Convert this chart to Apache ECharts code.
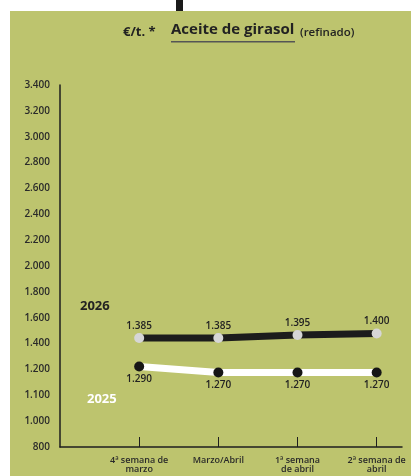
<!DOCTYPE html>
<html>
<head>
<meta charset="utf-8">
<script src="https://cdn.jsdelivr.net/npm/echarts@6/dist/echarts.min.js"></script>
<style>
html,body{margin:0;padding:0;background:#fff;}
#c{position:absolute;left:10px;top:11px;width:401px;height:465px;background:#bdc46e;}
</style>
</head>
<body>
<div id="c"></div>
<script>
var categories = ['4ª semana de\nmarzo', 'Marzo/Abril', '1ª semana\nde abril', '2ª semana de\nabril'];
var yTickLabels = ['800', '1.000', '1.100', '1.200', '1.400', '1.600', '1.800', '2.000', '2.200', '2.400', '2.600', '2.800', '3.000', '3.200', '3.400'];
var values2026 = [1385, 1385, 1395, 1400];
var values2025 = [1290, 1270, 1270, 1270];

function fmt(v) {
  var s = String(v);
  return s.length > 3 ? s.slice(0, s.length - 3) + '.' + s.slice(-3) : s;
}
function pairs(arr) { return arr.map(function (v, i) { return [i + 1, v]; }); }

var FONT = '"Open Sans", "Noto Sans", sans-serif';
var chart = echarts.init(document.getElementById('c'));
chart.setOption({
  animation: false,
  grid: { left: 50, right: 9, top: 74, bottom: 29 },
  xAxis: {
    type: 'value', min: 0, max: 4.32,
    axisLine: { lineStyle: { color: '#1e1e1e', width: 1.5 } },
    axisTick: { show: true, inside: true, length: 10, customValues: [1, 2, 3, 4], lineStyle: { color: '#1e1e1e', width: 1 } },
    axisLabel: { customValues: [1, 2, 3, 4], formatter: function (v) { return categories[v - 1] || ''; },
      fontFamily: FONT, fontWeight: 600, fontSize: 9, lineHeight: 9, color: '#2a2a2a', margin: 9 },
    splitLine: { show: false }
  },
  yAxis: [{
    type: 'category', data: yTickLabels, boundaryGap: false,
    axisLine: { lineStyle: { color: '#1e1e1e', width: 1.5 } },
    axisTick: { show: false },
    axisLabel: { fontFamily: FONT, fontWeight: 600, fontSize: 10, color: '#2a2a2a', margin: 10 },
    splitLine: { show: false }
  }, {
    type: 'value', min: 1022, max: 2228, show: false
  }],
  series: [{
    name: '2026', type: 'line', yAxisIndex: 1, data: pairs(values2026),
    lineStyle: { color: '#1c1c1c', width: 7 },
    symbol: 'circle', symbolSize: 10,
    itemStyle: { color: '#d6d6d6' },
    label: { show: true, position: 'top', distance: 2, fontFamily: FONT, fontWeight: 600, fontSize: 10, color: '#222',
      formatter: function (p) { return fmt(p.value[1]); } }
  }, {
    name: '2025', type: 'line', yAxisIndex: 1, data: pairs(values2025),
    lineStyle: { color: '#ffffff', width: 7 },
    symbol: 'circle', symbolSize: 10,
    itemStyle: { color: '#161616' },
    label: { show: true, position: 'bottom', distance: 3, fontFamily: FONT, fontWeight: 600, fontSize: 10, color: '#222',
      formatter: function (p) { return fmt(p.value[1]); } }
  }],
  graphic: [
    { type: 'text', left: 113, top: 15, style: { text: '€/t. *', fontFamily: FONT, fontWeight: 'bold', fontSize: 13, fill: '#222' } },
    { type: 'text', left: 161, top: 11, style: { text: 'Aceite de girasol', fontFamily: FONT, fontWeight: 'bold', fontSize: 15, fill: '#222' } },
    { type: 'rect', left: 161, top: 30, shape: { width: 124, height: 1.5 }, style: { fill: '#555' } },
    { type: 'text', left: 290, top: 16, style: { text: '(refinado)', fontFamily: FONT, fontWeight: 600, fontSize: 11.5, fill: '#222' } },
    { type: 'text', left: 70, top: 289, style: { text: '2026', fontFamily: FONT, fontWeight: 'bold', fontSize: 13, fill: '#222' } },
    { type: 'text', left: 77, top: 382, style: { text: '2025', fontFamily: FONT, fontWeight: 'bold', fontSize: 13, fill: '#ffffff' } }
  ]
});
</script>
<div style="position:absolute;left:176px;top:0;width:7px;height:11px;background:#1a1a1a;"></div>
</body>
</html>
